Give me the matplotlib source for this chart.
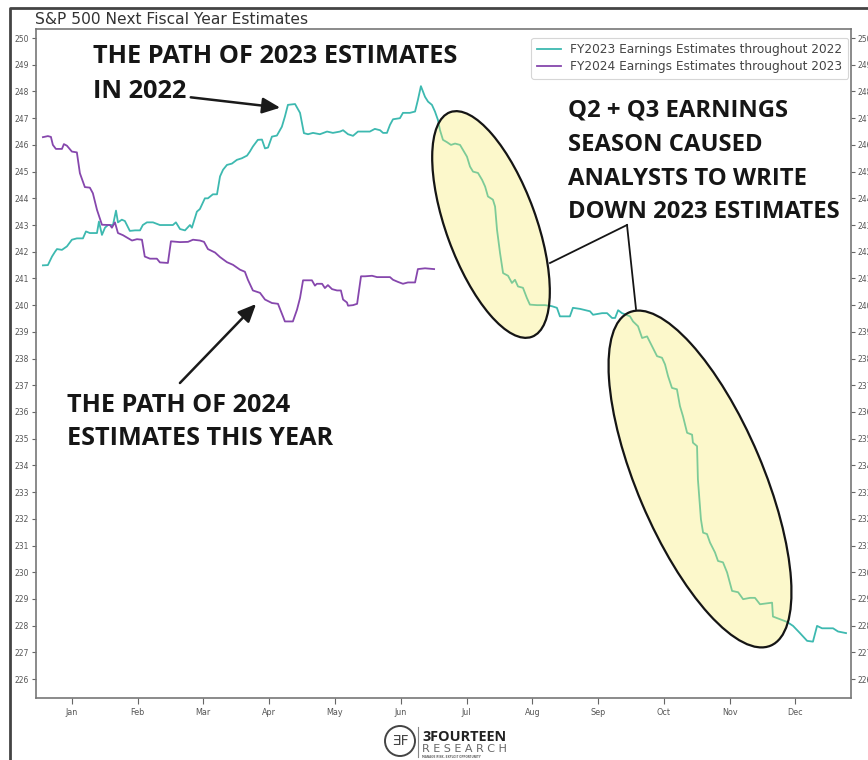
import numpy as np
import matplotlib
matplotlib.use("Agg")
import matplotlib.pyplot as plt
from matplotlib.patches import Ellipse, Circle, FancyArrowPatch
from matplotlib.lines import Line2D
from matplotlib.transforms import Affine2D

W, H = 868, 760

# ---------------- data ----------------
months = ["Jan", "Feb", "Mar", "Apr", "May", "Jun",
          "Jul", "Aug", "Sep", "Oct", "Nov", "Dec"]
month_ticks = [15.2, 45.6, 76.0, 106.5, 136.9, 167.3,
               197.7, 228.1, 258.5, 289.0, 319.4, 349.8]
y_ticks = list(range(226, 251))

series_labels = ["FY2023 Earnings Estimates throughout 2022",
                 "FY2024 Earnings Estimates throughout 2023"]

fy2023_days = [1.8, 4.1, 6.0, 7.4, 8.3, 10.6, 12.9, 15.2, 17.5, 20.3, 21.7, 23.5,
               26.8, 27.7, 29.1, 30.5, 31.9, 34.2, 35.6, 36.5, 38.3, 39.7, 42.0,
               44.4, 46.7, 48.0, 49.9, 52.7, 55.9, 59.1, 61.9, 63.3, 65.2, 67.5,
               69.8, 70.7, 73.0, 74.4, 76.7, 78.1, 80.4, 82.3, 83.7, 85.1, 86.9,
               89.2, 91.5, 93.8, 96.2, 97.5, 98.9, 101.2, 103.1, 104.5, 105.9,
               107.7, 110.0, 112.3, 113.7, 115.1, 118.4, 120.7, 122.5, 124.4,
               126.7, 129.9, 133.2, 135.9, 139.2, 140.6, 142.9, 145.2, 147.5,
               149.8, 153.0, 155.3, 157.7, 159.1, 160.9, 162.3, 163.7, 166.9,
               168.3, 171.5, 173.9, 175.2, 176.6, 178.5, 179.9, 181.7, 183.1,
               184.5, 185.4, 186.8, 188.7, 190.5, 192.4, 194.7, 196.1, 197.9,
               199.3, 200.7, 203.0, 204.9, 206.3, 207.6, 209.9, 210.9, 211.8,
               213.2, 214.6, 216.9, 218.7, 220.1, 221.5, 223.8, 225.6, 227.0,
               230.3, 234.0, 237.2, 239.5, 240.9, 245.5, 246.9, 250.2, 254.8,
               256.2, 260.4, 262.7, 265.0, 266.4, 267.8, 269.6, 273.3, 274.7,
               277.0, 278.9, 281.2, 283.5, 285.8, 288.1, 289.5, 290.9, 292.7,
               295.0, 296.4, 297.8, 299.7, 302.0, 302.4, 304.3, 304.7, 306.1,
               307.1, 308.9, 310.3, 312.6, 314.0, 316.3, 318.2, 320.5, 323.3,
               325.6, 328.8, 331.1, 333.4, 339.0, 339.4, 342.7, 345.9, 348.7,
               351.9, 355.2, 357.9, 359.8, 362.1, 367.2, 369.5, 373.2]
fy2023_values = [241.49, 241.50, 241.82, 242.00, 242.10, 242.07, 242.20, 242.45,
                 242.50, 242.50, 242.76, 242.70, 242.70, 243.13, 242.63, 242.90,
                 243.00, 243.00, 243.54, 243.10, 243.20, 243.15, 242.78, 242.80,
                 242.80, 243.00, 243.10, 243.10, 243.00, 243.00, 243.00, 243.10,
                 242.85, 242.80, 243.00, 242.90, 243.50, 243.60, 244.00, 244.00,
                 244.15, 244.15, 244.82, 245.07, 245.25, 245.30, 245.44, 245.50,
                 245.60, 245.75, 245.94, 246.19, 246.20, 245.87, 245.90, 246.31,
                 246.35, 246.68, 247.06, 247.50, 247.53, 247.20, 246.44, 246.40,
                 246.45, 246.40, 246.50, 246.45, 246.50, 246.55, 246.40, 246.34,
                 246.50, 246.50, 246.50, 246.60, 246.55, 246.45, 246.45, 246.75,
                 246.96, 247.00, 247.20, 247.20, 247.25, 247.68, 248.20, 247.80,
                 247.62, 247.50, 247.25, 246.93, 246.56, 246.19, 246.10, 246.00,
                 246.05, 246.00, 245.81, 245.56, 245.19, 245.00, 244.95, 244.69,
                 244.44, 244.07, 243.95, 243.69, 242.82, 241.95, 241.20, 241.10,
                 240.83, 240.95, 240.70, 240.65, 240.27, 240.02, 240.00, 240.00,
                 239.96, 239.90, 239.58, 239.58, 239.90, 239.86, 239.77, 239.64,
                 239.70, 239.70, 239.52, 239.52, 239.81, 239.70, 239.58, 239.39,
                 239.21, 238.77, 238.83, 238.46, 238.09, 238.03, 237.78, 237.34,
                 236.90, 236.85, 236.22, 235.84, 235.22, 235.15, 234.85, 234.72,
                 233.48, 231.98, 231.48, 231.43, 231.11, 230.74, 230.42, 230.37,
                 229.99, 229.30, 229.25, 228.99, 229.04, 229.04, 228.80, 228.86,
                 228.34, 228.24, 228.14, 227.99, 227.72, 227.43, 227.40, 227.99,
                 227.90, 227.90, 227.78, 227.72]

fy2024_days = [1.8, 4.1, 5.5, 6.4, 7.8, 10.6, 11.5, 12.9, 15.2, 17.5, 18.9, 21.2,
               23.5, 24.9, 26.8, 29.1, 32.8, 33.7, 35.1, 36.5, 38.8, 41.1, 43.0,
               45.3, 47.6, 48.9, 51.3, 54.5, 55.9, 59.6, 61.0, 65.2, 68.9, 71.2,
               74.4, 76.3, 78.1, 81.4, 83.7, 86.9, 89.7, 92.9, 95.2, 96.6, 98.9,
               102.2, 104.5, 107.7, 110.5, 112.8, 113.7, 117.4, 119.3, 120.7,
               122.1, 126.2, 127.6, 128.5, 130.9, 132.2, 133.6, 135.5, 137.8,
               139.6, 140.6, 142.4, 142.9, 145.2, 147.1, 148.9, 150.8, 154.0,
               156.3, 162.3, 163.7, 166.0, 168.3, 170.6, 173.9, 175.2, 178.5,
               182.7]
fy2024_values = [246.29, 246.33, 246.30, 246.00, 245.85, 245.85, 246.03, 245.97,
                 245.75, 245.72, 244.94, 244.42, 244.40, 244.19, 243.57, 243.01,
                 243.00, 242.90, 243.10, 242.70, 242.62, 242.51, 242.42, 242.47,
                 242.45, 241.82, 241.74, 241.74, 241.60, 241.58, 242.39, 242.36,
                 242.37, 242.45, 242.42, 242.37, 242.10, 241.97, 241.80, 241.61,
                 241.51, 241.33, 241.25, 240.95, 240.55, 240.46, 240.21, 240.08,
                 240.05, 239.58, 239.39, 239.39, 239.83, 240.27, 240.93, 240.93,
                 240.73, 240.80, 240.80, 240.64, 240.75, 240.60, 240.55, 240.55,
                 240.21, 240.10, 239.98, 240.00, 240.05, 241.08, 241.08, 241.10,
                 241.05, 241.05, 240.95, 240.87, 240.80, 240.85, 240.85, 241.35,
                 241.38, 241.35]

teal = "#3db9b0"
purple = "#8647ad"

# ---------------- figure ----------------
fig = plt.figure(figsize=(W / 100, H / 100), dpi=100)
fig.patch.set_facecolor("white")
ax = fig.add_axes([36 / W, 1 - 698 / H, (851 - 36) / W, (698 - 29) / H])

ax.plot(fy2023_days, fy2023_values, color=teal, lw=1.3, label=series_labels[0], zorder=3)
ax.plot(fy2024_days, fy2024_values, color=purple, lw=1.3, label=series_labels[1], zorder=3)

ax.set_xlim(-1.4, 375.5)
ax.set_ylim(225.29, 250.34)
ax.set_xticks(month_ticks)
ax.set_xticklabels(months)
ax.set_yticks(y_ticks)
ax.set_yticklabels([str(v) for v in y_ticks])
ax.tick_params(axis="y", left=True, right=True, labelleft=True, labelright=True,
               labelsize=5.5, labelcolor="#555555", color="#666666", length=3, width=0.8, pad=2)
ax.tick_params(axis="x", labelsize=5.8, labelcolor="#555555", color="#666666",
               length=4, width=0.8, pad=3)
for s in ax.spines.values():
    s.set_color("#777777")
    s.set_linewidth(1.2)

# pixel-space transform (x from left, y from top)
px = Affine2D().scale(1 / W, -1 / H).translate(0, 1) + fig.transFigure

leg = ax.legend(loc="upper right", bbox_to_anchor=(848, 38), bbox_transform=px,
                borderaxespad=0, fontsize=8.7, labelcolor="#444444", frameon=True,
                handlelength=2.0, borderpad=0.45, labelspacing=0.3, fancybox=True)
leg.get_frame().set_edgecolor("#cccccc")
leg.get_frame().set_linewidth(0.8)

renderer = fig.canvas.get_renderer()


def fit_block(lines, x, baselines, fit_idx, target_w, **kw):
    t = fig.text(x, baselines[fit_idx], lines[fit_idx], transform=px, fontsize=20, **kw)
    w = t.get_window_extent(renderer).width
    t.remove()
    fs = 20 * target_w / w
    for s, b in zip(lines, baselines):
        fig.text(x, b, s, transform=px, fontsize=fs, va="baseline", ha="left", zorder=6, **kw)
    return fs


# title
fit_block(["S&P 500 Next Fiscal Year Estimates"], 35, [24], 0, 273,
          family="DejaVu Sans", color="#333333")

# big annotation text
big = dict(family=["Open Sans", "DejaVu Sans"], fontweight="bold", color="#161616")
fit_block(["THE PATH OF 2023 ESTIMATES", "IN 2022"], 93, [63, 98], 0, 365, **big)
fit_block(["Q2 + Q3 EARNINGS", "SEASON CAUSED", "ANALYSTS TO WRITE", "DOWN 2023 ESTIMATES"],
          568, [117, 151, 185, 218], 3, 272, **big)
fit_block(["THE PATH OF 2024", "ESTIMATES THIS YEAR"], 67, [412, 445], 1, 266, **big)

# highlight ellipses
ell_face = (0.97, 0.93, 0.42, 0.35)
for (cx, cy), wd, ht, ang in [((491, 224.5), 239, 90, 70), ((700, 479), 362, 126, 67.0)]:
    e = Ellipse((cx, cy), wd, ht, angle=ang, transform=px, facecolor=ell_face,
                edgecolor="#151515", lw=1.6, zorder=4)
    fig.add_artist(e)

# callout lines
for xs, ys in [([627, 550], [225, 263]), ([627, 636], [225, 309])]:
    fig.add_artist(Line2D(xs, ys, transform=px, color="#151515", lw=1.3, zorder=5))

# arrows
for a, b in [((188, 97), (283, 108)), ((178, 385), (258, 302))]:
    fig.add_artist(FancyArrowPatch(a, b, transform=px, arrowstyle="-|>,head_length=0.9,head_width=0.4",
                                   mutation_scale=12, lw=1.8, color="#1a1a1a", zorder=5))

# outer frame
fig.add_artist(Line2D([10, 10, W + 5], [H + 5, 8, 8], transform=px, color="#444444", lw=2.0))

# logo
fig.add_artist(Circle((400, 741), 15, transform=px, facecolor="none", edgecolor="#444444", lw=1.4))
fig.text(400, 741, "ƎF", transform=px, ha="center", va="center", fontsize=10,
         color="#444444", family="DejaVu Sans")
fig.add_artist(Line2D([418, 418], [727, 757], transform=px, color="#888888", lw=0.8))
fit_block(["3FOURTEEN"], 422, [741], 0, 85, family=["Open Sans", "DejaVu Sans"],
          fontweight="bold", color="#222222")
fit_block(["R E S E A R C H"], 422, [752], 0, 85, family="DejaVu Sans", color="#666666")
fit_block(["MANAGE RISK. EXPLOIT OPPORTUNITY"], 422, [758], 0, 60, family="DejaVu Sans",
          fontweight="bold", color="#666666")

fig.savefig("out.png", dpi=100, facecolor="white")
